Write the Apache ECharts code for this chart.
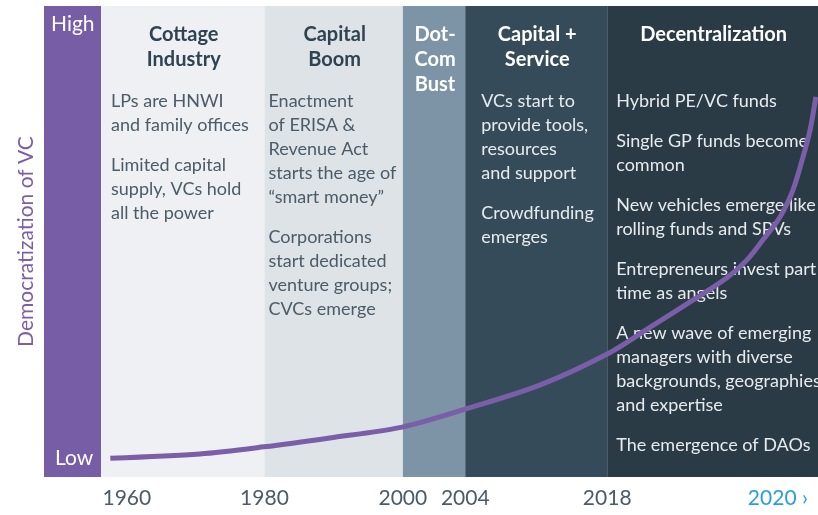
<!DOCTYPE html>
<html>
<head>
<meta charset="utf-8">
<script src="https://cdn.jsdelivr.net/npm/echarts@6/dist/echarts.min.js"></script>
<style>
  html, body { margin: 0; padding: 0; background: #fff; }
  #main { width: 818px; height: 515px; }
</style>
</head>
<body>
<div id="main"></div>
<script>
// timeline position runs 0..100 across the plot, height 0..100 (Low..High)
var eraNames = ['Cottage\nIndustry', 'Capital\nBoom', 'Dot-\nCom\nBust', 'Capital +\nService', 'Decentralization'];
var eraStart = [0, 22.8, 42.1, 50.8, 70.6];
var eraEnd   = [22.8, 42.1, 50.8, 70.6, 100];
var eraNotes = [
    [['LPs are HNWI', 'and family offices'], ['Limited capital', 'supply, VCs hold', 'all the power']],
    [['Enactment', 'of ERISA &', 'Revenue Act', 'starts the age of', '\u201csmart money\u201d'], ['Corporations', 'start dedicated', 'venture groups;', 'CVCs emerge']],
    [],
    [['VCs start to', 'provide tools,', 'resources', 'and support'], ['Crowdfunding', 'emerges']],
    [['Hybrid PE/VC funds'], ['Single GP funds become', 'common'], ['New vehicles emerge like', 'rolling funds and SPVs'],
     ['Entrepreneurs invest part', 'time as angels'], ['A new wave of emerging', 'managers with diverse', 'backgrounds, geographies', 'and expertise'],
     ['The emergence of DAOs']]
];
var eraFill  = ['#eef0f4', '#dee3e7', '#7d93a6', '#364b59', '#2b3b45'];
var eraDark  = [false, false, true, true, true];
var eraPad   = [10, 4, 0, 16, 9];

var yearPos    = [3.6, 22.8, 42.1, 50.8, 70.6, 94.4];
var yearLabels = ['1960', '1980', '2000', '2004', '2018', '2020'];

var curveX = [1.3, 13.8, 22.7, 31.9, 42.0, 50.8, 61.2, 70.6, 76.6, 82.6, 87.3, 90.1, 92.3, 94.7, 96.5, 97.9, 98.9, 99.7];
var curveY = [4.0, 4.9, 6.4, 8.3, 10.6, 14.4, 19.5, 26.1, 31.8, 37.6, 42.3, 46.1, 50.3, 55.2, 60.9, 67.9, 73.7, 80.7];

var FONT = 'Lato, "Open Sans", sans-serif';

var eraData = [];
for (var i = 0; i < eraNames.length; i++) eraData.push([eraStart[i], eraEnd[i], i]);

var curve = [];
for (var j = 0; j < curveX.length; j++) curve.push([curveX[j], curveY[j]]);

function renderEra(params, api) {
    var i = api.value(2);
    var p0 = api.coord([api.value(0), 100]);
    var p1 = api.coord([api.value(1), 0]);
    var dark = eraDark[i];
    var kids = [{
        type: 'rect',
        shape: { x: p0[0], y: p0[1], width: p1[0] - p0[0], height: p1[1] - p0[1] },
        style: { fill: eraFill[i] }
    }, {
        type: 'text',
        style: {
            text: eraNames[i], x: (p0[0] + p1[0]) / 2 + 1, y: p0[1] + 16,
            align: 'center', verticalAlign: 'top', lineHeight: 25,
            font: 'bold 20px ' + FONT, fill: dark ? '#ffffff' : '#2f4351'
        }
    }];
    var y = p0[1] + 86;
    var notes = eraNotes[i];
    for (var k = 0; k < notes.length; k++) {
        for (var m = 0; m < notes[k].length; m++) {
            kids.push({
                type: 'text',
                style: {
                    text: notes[k][m], x: p0[0] + eraPad[i], y: y,
                    align: 'left', verticalAlign: 'top',
                    font: '18px ' + FONT, fill: dark ? '#e6ebee' : '#4b5b67'
                }
            });
            y += 24;
        }
        y += 16;
    }
    return { type: 'group', children: kids };
}

var chart = echarts.init(document.getElementById('main'));
chart.setOption({
    animation: false,
    grid: { left: 101, right: 0, top: 6, bottom: 38 },
    xAxis: {
        type: 'value', min: 0, max: 100,
        axisLine: { show: false }, axisTick: { show: false }, splitLine: { show: false },
        axisLabel: {
            customValues: yearPos, margin: 11,
            fontFamily: FONT, fontSize: 21, color: '#4b5b67',
            formatter: function (v) {
                var idx = yearPos.indexOf(v);
                if (idx === yearLabels.length - 1) return '{blue|' + yearLabels[idx] + ' \u203a}';
                return yearLabels[idx];
            },
            rich: { blue: { color: '#2b9fdc', fontSize: 21, fontFamily: FONT } }
        }
    },
    yAxis: {
        type: 'value', min: 0, max: 100,
        axisLine: { show: false }, axisTick: { show: false }, splitLine: { show: false },
        axisLabel: { show: false },
        name: 'Democratization of VC', nameLocation: 'middle', nameRotate: 90, nameGap: 64,
        nameTextStyle: { color: '#7b5ea7', fontSize: 21, fontFamily: FONT }
    },
    graphic: [
        { type: 'rect', left: 44, top: 6, shape: { width: 57, height: 471 }, style: { fill: '#775ca6' } },
        { type: 'text', left: 51, top: 14, style: { text: 'High', font: '21px ' + FONT, fill: '#ffffff' } },
        { type: 'text', left: 55, top: 448, style: { text: 'Low', font: '21px ' + FONT, fill: '#ffffff' } }
    ],
    series: [{
        type: 'custom',
        renderItem: renderEra,
        data: eraData,
        encode: { x: [0, 1] },
        z: 1,
        silent: true
    }, {
        type: 'line',
        data: curve,
        smooth: 0.3,
        showSymbol: false,
        lineStyle: { color: '#7a5ea8', width: 5 },
        z: 5,
        silent: true
    }]
});
</script>
</body>
</html>
